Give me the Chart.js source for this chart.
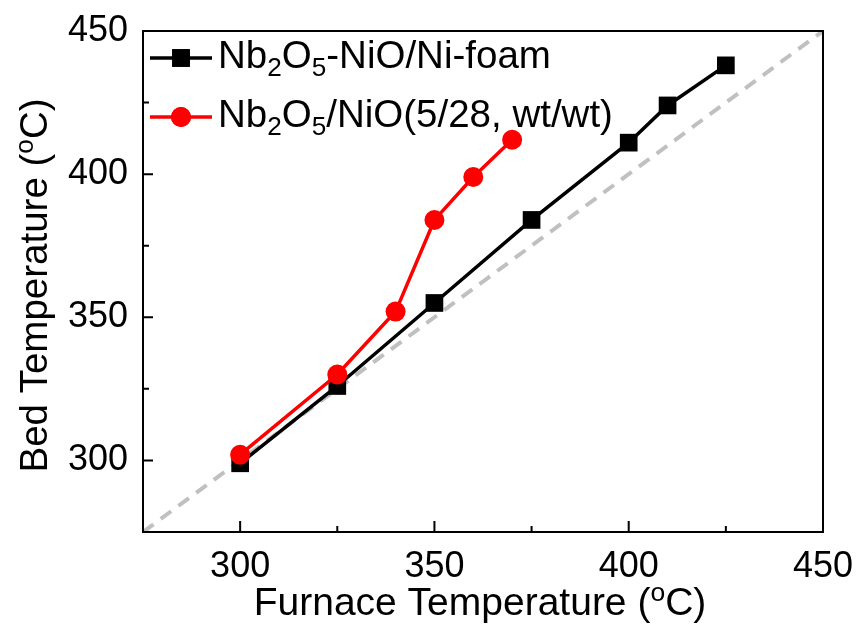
<!DOCTYPE html>
<html>
<head>
<meta charset="utf-8">
<script src="https://cdn.jsdelivr.net/npm/chart.js@4.4.1/dist/chart.umd.min.js"></script>
<style>
html,body{margin:0;padding:0;background:#fff;}
canvas{display:block;}
</style>
</head>
<body>
<canvas id="c" width="858" height="630"></canvas>
<script>
// ---- data ----
const furnaceFoam = [300, 325, 350, 375, 400, 410, 425];
const bedFoam     = [299, 326, 355, 384, 411, 424, 438];
const furnacePowder = [300, 325, 340, 350, 360, 370];
const bedPowder     = [302, 330, 352, 384, 399, 412];
const diagonalX = [275, 450];
const diagonalY = [275, 450];
const axisMin = 275, axisMax = 450;
const majorTicks = [300, 350, 400, 450];
const minorTicks = [325, 375, 425];
const xTitle = [{t:'Furnace Temperature ('},{t:'o',sup:true},{t:'C)'}];
const yTitle = [{t:'Bed Temperature ('},{t:'o',sup:true},{t:'C)'}];
const legendFoam = [{t:'Nb'},{t:'2',sub:true},{t:'O'},{t:'5',sub:true},{t:'-NiO/Ni-foam'}];
const legendPowder = [{t:'Nb'},{t:'2',sub:true},{t:'O'},{t:'5',sub:true},{t:'/NiO(5/28, wt/wt)'}];

const FONT = "'Liberation Sans', Arial, sans-serif";
const zip = (xs, ys) => xs.map((x, i) => ({x, y: ys[i]}));

function drawRich(ctx, parts, x, y, size) {
  let cx = x;
  for (const p of parts) {
    let s = size, dy = 0;
    if (p.sub) { s = size * 0.68; dy = size * 0.22; }
    if (p.sup) { s = size * 0.68; dy = -size * 0.36; }
    ctx.font = s + 'px ' + FONT;
    ctx.fillText(p.t, cx, y + dy);
    cx += ctx.measureText(p.t).width;
  }
  return cx - x;
}
function richWidth(ctx, parts, size) {
  let w = 0;
  for (const p of parts) {
    const s = (p.sub || p.sup) ? size * 0.68 : size;
    ctx.font = s + 'px ' + FONT;
    w += ctx.measureText(p.t).width;
  }
  return w;
}

const decor = {
  id: 'decor',
  afterDraw(chart) {
    const ctx = chart.ctx, a = chart.chartArea;
    const xs = chart.scales.x, ys = chart.scales.y;
    ctx.save();
    ctx.strokeStyle = '#000';
    ctx.lineWidth = 2;
    ctx.strokeRect(a.left, a.top, a.right - a.left, a.bottom - a.top);
    ctx.beginPath();
    for (const v of majorTicks) {
      const px = xs.getPixelForValue(v), py = ys.getPixelForValue(v);
      ctx.moveTo(px, a.bottom); ctx.lineTo(px, a.bottom - 11);
      ctx.moveTo(a.left, py); ctx.lineTo(a.left + 10, py);
    }
    for (const v of minorTicks) {
      const px = xs.getPixelForValue(v), py = ys.getPixelForValue(v);
      ctx.moveTo(px, a.bottom); ctx.lineTo(px, a.bottom - 6);
      ctx.moveTo(a.left, py); ctx.lineTo(a.left + 6, py);
    }
    ctx.stroke();

    // axis titles
    ctx.fillStyle = '#000';
    ctx.textBaseline = 'alphabetic';
    ctx.textAlign = 'left';
    const tx = 39;
    const wx = richWidth(ctx, xTitle, tx);
    drawRich(ctx, xTitle, 480 - wx / 2, 615, tx);
    const ty = 38.5;
    const wy = richWidth(ctx, yTitle, ty);
    ctx.save();
    ctx.translate(47, 285.5);
    ctx.rotate(-Math.PI / 2);
    drawRich(ctx, yTitle, -wy / 2, 0, ty);
    ctx.restore();

    // legend
    const entries = [
      {parts: legendFoam, color: '#000', style: 'rect', r: 12.5, y: 58, base: 68},
      {parts: legendPowder, color: '#ff0000', style: 'circle', r: 10, y: 117, base: 127}
    ];
    for (const e of entries) {
      ctx.strokeStyle = e.color; ctx.fillStyle = e.color; ctx.lineWidth = 3.5;
      ctx.beginPath(); ctx.moveTo(150, e.y); ctx.lineTo(212, e.y); ctx.stroke();
      Chart.helpers.drawPoint(ctx, {pointStyle: e.style, radius: e.r, borderWidth: 0}, 181, e.y);
      ctx.fill();
      ctx.fillStyle = '#000';
      drawRich(ctx, e.parts, 218, e.base, 38.5);
    }
    ctx.restore();
  }
};

new Chart(document.getElementById('c'), {
  type: 'scatter',
  data: {
    datasets: [
      {
        label: 'Nb2O5/NiO(5/28, wt/wt)',
        data: zip(furnacePowder, bedPowder),
        showLine: true,
        borderColor: '#ff0000', backgroundColor: '#ff0000',
        borderWidth: 3.5, pointStyle: 'circle', pointRadius: 10, pointBorderWidth: 0,
        order: 0
      },
      {
        label: 'Nb2O5-NiO/Ni-foam',
        data: zip(furnaceFoam, bedFoam),
        showLine: true,
        borderColor: '#000', backgroundColor: '#000',
        borderWidth: 3.5, pointStyle: 'rect', pointRadius: 12.5, pointBorderWidth: 0,
        order: 1
      },
      {
        label: 'y = x',
        data: zip(diagonalX, diagonalY),
        showLine: true,
        borderColor: '#c0c0c0', borderWidth: 4, borderDash: [13, 9],
        pointRadius: 0,
        order: 2
      }
    ]
  },
  options: {
    responsive: false,
    animation: false,
    devicePixelRatio: 1,
    layout: {padding: {left: 0, top: 31, right: 35, bottom: 0}},
    plugins: {legend: {display: false}, tooltip: {enabled: false}},
    scales: {
      x: {
        type: 'linear', min: axisMin, max: axisMax,
        afterFit(s) { s.height = 98; s.paddingLeft = 0; s.paddingRight = 0; },
        grid: {display: false, drawTicks: false},
        border: {display: false},
        ticks: {
          stepSize: 25, padding: 13, color: '#000',
          font: {family: FONT, size: 36},
          callback: v => majorTicks.includes(v) ? String(v) : ''
        }
      },
      y: {
        type: 'linear', min: axisMin, max: axisMax,
        afterFit(s) { s.width = 143; s.paddingTop = 0; s.paddingBottom = 0; },
        grid: {display: false, drawTicks: false},
        border: {display: false},
        ticks: {
          stepSize: 25, padding: 15, color: '#000',
          font: {family: FONT, size: 36},
          callback: v => majorTicks.includes(v) ? String(v) : ''
        }
      }
    }
  },
  plugins: [decor]
});
</script>
</body>
</html>
